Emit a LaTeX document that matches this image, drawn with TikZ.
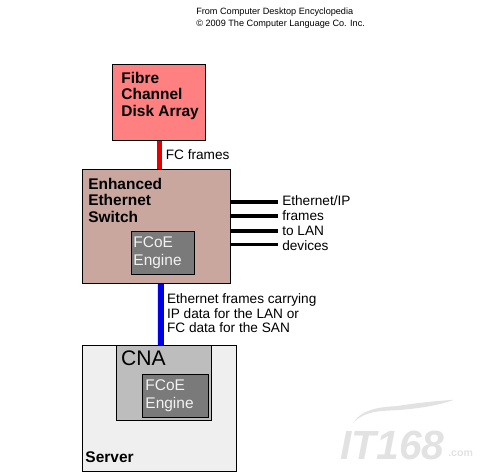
\documentclass[tikz,border=0pt]{standalone}
\usepackage{fontspec}
\setmainfont{Liberation Sans}
\usepackage{xcolor}
\usetikzlibrary{positioning}
\definecolor{fcpink}{HTML}{FF8080}
\definecolor{switchtan}{HTML}{C9A69E}
\definecolor{enginegray}{HTML}{7A7A7A}
\definecolor{cnagray}{HTML}{BDBDBD}
\definecolor{servergray}{HTML}{EFEFEF}
\definecolor{markgray}{HTML}{E2E2E2}

\begin{document}
\begin{tikzpicture}[
  box/.style={draw, line width=0.5pt, inner sep=0pt, minimum width=#1},
  boxtitle/.style={font=\fontsize{11}{11.6}\selectfont\bfseries, align=left, anchor=north west, inner sep=0pt},
  enginetext/.style={font=\fontsize{11}{12.8}\selectfont, text=white!90!gray, align=left, anchor=north west, inner sep=0pt},
  note/.style={font=\fontsize{9.7}{#1}\selectfont, align=left, anchor=north west, inner sep=0pt},
  note/.default=10.3,
  credit/.style={font=\fontsize{6.5}{8.5}\selectfont, align=left, anchor=north west, inner sep=0pt},
  lanline/.style={draw=black, line width=#1},
]
\useasboundingbox (0, 0) rectangle (12.4, 11.875);

% Credit
\node[credit] (from) at (4.9, 11.68) {From Computer Desktop Encyclopedia\\\textcopyright{} 2009 The Computer Language Co. Inc.};

% Disk array
\node[box=2.34cm, minimum height=1.89cm, fill=fcpink] (fibre) at (3.97, 9.31) {};
\node[boxtitle] (fibretxt) at (3.03, 10.07) {Fibre\\Channel\\Disk Array};

% Switch
\node[box=3.71cm, minimum height=2.85cm, fill=switchtan] (switch) at (3.91, 6.22) {};
\node[boxtitle] (switchtxt) at (2.2, 7.42) {Enhanced\\Ethernet\\Switch};
\node[box=1.58cm, minimum height=1.09cm, fill=enginegray] (engine) at (4.07, 5.55) {};
\node[enginetext] (enginetxt) at (3.33, 5.97) {FCoE\\Engine};

% Server
\node[box=3.86cm, minimum height=3.14cm, fill=servergray] (server) at (3.99, 1.67) {};
\node[boxtitle, anchor=west] (servertxt) at (2.13, 0.45) {Server};
\node[box=2.38cm, minimum height=1.87cm, fill=cnagray] (cna) at (4.1, 2.305) {};
\node[font=\fontsize{15}{17}\selectfont, anchor=west, inner sep=0pt] (cnatxt) at (3.02, 2.92) {CNA};
\node[box=1.64cm, minimum height=1.09cm, fill=enginegray] (cnaengine) at (4.38, 1.975) {};
\node[enginetext] (cnaenginetxt) at (3.63, 2.39) {FCoE\\Engine};

% Links
\draw[line width=3pt, red!90!black] ([xshift=0.02cm]fibre.south) -- ([xshift=0.02cm]fibre.south |- switch.north);
\draw[line width=4.2pt, blue!90!black] ([xshift=0.11cm]switch.south) -- ([xshift=-0.08cm]cna.north);

% Lines to LAN
\coordinate (lan1) at (6.95, 6.83);
\coordinate (lan2) at (6.95, 6.48);
\coordinate (lan3) at (6.95, 6.1);
\coordinate (lan4) at (6.95, 5.77);
\draw[lanline=3pt] (switch.east |- lan1) -- (lan1);
\draw[lanline=3pt] (switch.east |- lan2) -- (lan2);
\draw[lanline=3pt] (switch.east |- lan3) -- (lan3);
\draw[lanline=2.2pt] (switch.east |- lan4) -- (lan4);

% Labels
\node[note] (fclabel) at (4.14, 8.13) {FC frames};
\node[note=10.7] (lanlabel) at (7.05, 7.0) {Ethernet/IP\\frames\\to LAN\\devices};
\node[note] (ethlabel) at (4.17, 4.53) {Ethernet frames carrying\\IP data for the LAN or\\FC data for the SAN};

% Watermark
\fill[markgray] (8.83, 1.3) .. controls (9.1, 1.6) and (9.5, 1.6) .. (9.9, 1.62)
  .. controls (10.5, 1.66) and (11.0, 1.75) .. (11.35, 1.88)
  .. controls (10.9, 1.85) and (10.4, 1.8) .. (9.9, 1.72)
  .. controls (9.4, 1.7) and (9.0, 1.6) .. (8.83, 1.3);
\node[font=\fontsize{29}{29}\selectfont\bfseries\itshape, text=markgray, anchor=south west, inner sep=0pt] (markit) at (8.5, 0.38) {IT168};
\node[font=\fontsize{7.5}{7.5}\selectfont\bfseries, text=markgray, anchor=south west, inner sep=0pt] (markcom) at (11.2, 0.45) {.com};
\end{tikzpicture}
\end{document}
